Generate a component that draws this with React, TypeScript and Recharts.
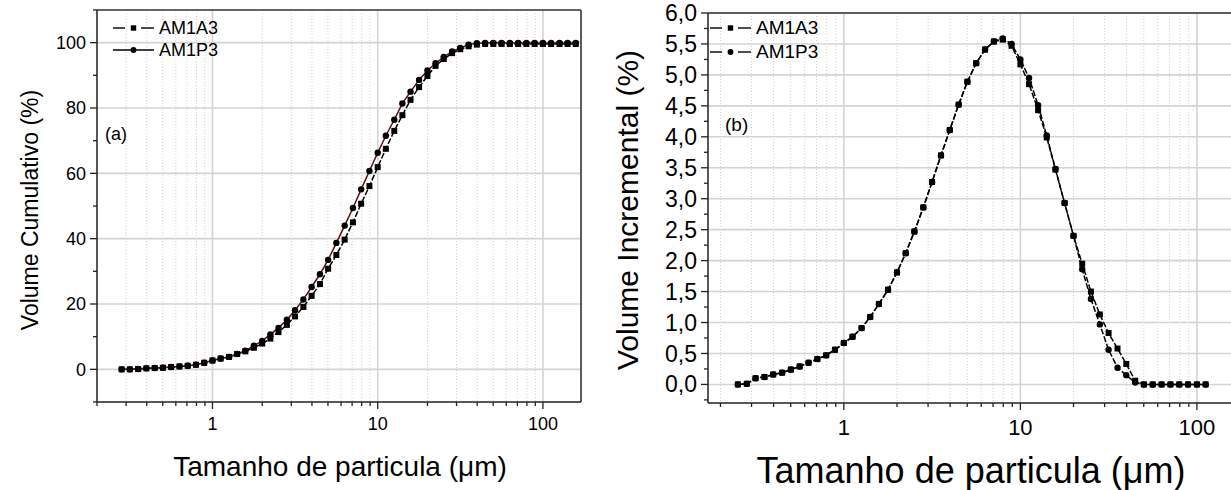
import React from 'react';
import { LineChart, Line, XAxis, YAxis, CartesianGrid, ReferenceLine, Legend } from 'recharts';

// ---------- data ----------
const leftSizes = [0.282, 0.316, 0.355, 0.398, 0.447, 0.501, 0.562, 0.631, 0.708, 0.794, 0.891, 1, 1.12, 1.26, 1.41, 1.58, 1.78, 2, 2.24, 2.51, 2.82, 3.16, 3.55, 3.98, 4.47, 5.01, 5.62, 6.31, 7.08, 7.94, 8.91, 10, 11.2, 12.6, 14.1, 15.8, 17.8, 20, 22.4, 25.1, 28.2, 31.6, 35.5, 39.8, 44.7, 50.1, 56.2, 63.1, 70.8, 79.4, 89.1, 100, 112, 126, 141, 158];
const leftA3 = [0.0, 0.0, 0.1, 0.3, 0.4, 0.5, 0.7, 0.9, 1.1, 1.4, 2.0, 2.7, 3.3, 3.8, 4.7, 5.5, 6.6, 7.9, 9.4, 11.4, 13.6, 16.2, 19.1, 22.5, 26.1, 30.8, 35.0, 39.7, 45.0, 50.7, 56.1, 61.9, 67.5, 73.0, 77.8, 82.5, 86.4, 89.8, 92.9, 95.0, 96.8, 98.0, 98.9, 99.4, 99.6, 99.6, 99.6, 99.6, 99.6, 99.6, 99.6, 99.6, 99.6, 99.6, 99.6, 99.6];
const leftP3 = [0.0, 0.0, 0.1, 0.3, 0.4, 0.5, 0.7, 0.9, 1.1, 1.4, 2.0, 2.7, 3.3, 3.8, 4.7, 5.7, 7.2, 8.7, 10.7, 12.7, 15.2, 18.1, 21.4, 25.2, 29.1, 33.5, 38.7, 44.0, 49.4, 55.1, 60.7, 66.3, 71.5, 76.4, 81.4, 85.0, 88.6, 91.5, 93.7, 95.6, 97.3, 98.4, 99.4, 99.8, 99.9, 99.9, 99.9, 99.9, 99.9, 99.9, 99.9, 99.9, 99.9, 99.9, 99.9, 99.9];

const rightSizes = [0.251, 0.282, 0.316, 0.355, 0.398, 0.447, 0.501, 0.562, 0.631, 0.708, 0.794, 0.891, 1, 1.12, 1.26, 1.41, 1.58, 1.78, 2, 2.24, 2.51, 2.82, 3.16, 3.55, 3.98, 4.47, 5.01, 5.62, 6.31, 7.08, 7.94, 8.91, 10, 11.2, 12.6, 14.1, 15.8, 17.8, 20, 22.4, 25.1, 28.2, 31.6, 35.5, 39.8, 44.7, 50.1, 56.2, 63.1, 70.8, 79.4, 89.1, 100, 112];
const rightA3 = [0.00, 0.01, 0.10, 0.12, 0.16, 0.19, 0.24, 0.29, 0.35, 0.41, 0.47, 0.56, 0.67, 0.77, 0.91, 1.09, 1.30, 1.53, 1.81, 2.12, 2.47, 2.86, 3.27, 3.70, 4.11, 4.52, 4.89, 5.19, 5.41, 5.54, 5.57, 5.47, 5.17, 4.85, 4.43, 3.99, 3.47, 2.93, 2.40, 1.95, 1.50, 1.13, 0.83, 0.58, 0.33, 0.06, 0, 0, 0, 0, 0, 0, 0, 0];
const rightP3 = [0.00, 0.01, 0.10, 0.12, 0.16, 0.19, 0.24, 0.29, 0.35, 0.41, 0.47, 0.56, 0.67, 0.77, 0.91, 1.09, 1.30, 1.53, 1.81, 2.12, 2.47, 2.86, 3.27, 3.70, 4.11, 4.52, 4.89, 5.19, 5.41, 5.54, 5.59, 5.50, 5.25, 4.95, 4.51, 4.02, 3.48, 2.93, 2.40, 1.86, 1.38, 0.97, 0.56, 0.27, 0.15, 0.03, 0, 0, 0, 0, 0, 0, 0, 0];

// ---------- ticks ----------
const xMajor = [1, 10, 100];
const xMinor = [0.2, 0.3, 0.4, 0.5, 0.6, 0.7, 0.8, 0.9, 2, 3, 4, 5, 6, 7, 8, 9, 20, 30, 40, 50, 60, 70, 80, 90];
const leftYMajor = [0, 20, 40, 60, 80, 100];
const leftYMinor = [-10, 10, 30, 50, 70, 90, 110];
const rightYMajor = [0, 0.5, 1, 1.5, 2, 2.5, 3, 3.5, 4, 4.5, 5, 5.5, 6];
const rightYMinor = [-0.25, 0.25, 0.75, 1.25, 1.75, 2.25, 2.75, 3.25, 3.75, 4.25, 4.75, 5.25, 5.75];

const seriesNames = ['AM1A3', 'AM1P3'];
const titleX = 'Tamanho de particula (\u03BCm)';
const leftTitleY = 'Volume Cumulativo (%)';
const rightTitleY = 'Volume Incremental (%)';

const leftData = leftSizes.map((s, i) => ({ size: s, a3: leftA3[i], p3: leftP3[i] }));
const rightData = rightSizes.map((s, i) => ({ size: s, a3: rightA3[i], p3: rightP3[i] }));

const FONT = '"Liberation Sans", Arial, sans-serif';
const AXIS = '#222';
const RED = '#5c1010';

const sortNum = (a: number[]) => [...a].sort((p, q) => p - q);

function makeXTick(fontSize: number, labelDy: number) {
  return (props: any) => {
    const { x, y, payload } = props;
    const major = xMajor.includes(payload.value);
    return (
      <g>
        <line x1={x} x2={x} y1={y} y2={y + (major ? 7 : 4)} stroke={AXIS} strokeWidth={1.3} />
        {major && (
          <text x={x} y={y + labelDy} textAnchor="middle" fontSize={fontSize} fontFamily={FONT} fill="#000">
            {String(payload.value)}
          </text>
        )}
      </g>
    );
  };
}

function makeYTick(majors: number[], fontSize: number, fmt: (v: number) => string) {
  return (props: any) => {
    const { x, y, payload } = props;
    const major = majors.includes(payload.value);
    const len = major ? 7 : 4;
    return (
      <g>
        <line x1={x - len} x2={x} y1={y} y2={y} stroke={AXIS} strokeWidth={1.3} />
        {major && (
          <text x={x - len - 4} y={y} dy="0.35em" textAnchor="end" fontSize={fontSize} fontFamily={FONT} fill="#000">
            {fmt(payload.value)}
          </text>
        )}
      </g>
    );
  };
}

const SquareDot = (props: any) => {
  const { cx, cy } = props;
  if (cx == null || cy == null) return <g />;
  return <rect x={cx - 3} y={cy - 3} width={6} height={6} fill="#000" />;
};
const CircleDot = (props: any) => {
  const { cx, cy } = props;
  if (cx == null || cy == null) return <g />;
  return <circle cx={cx} cy={cy} r={3.2} fill="#000" />;
};

function makeLegend(fontSize: number, dashed: boolean[], rowH: number) {
  return () => (
    <div style={{ fontFamily: FONT, fontSize, lineHeight: `${rowH}px`, color: '#000' }}>
      {seriesNames.map((n, i) => {
        const m = rowH / 2;
        return (
          <div key={n} style={{ display: 'flex', alignItems: 'center', height: rowH }}>
            <svg width={42} height={rowH} style={{ display: 'block' }}>
              {dashed[i] ? (
                <g stroke="#000" strokeWidth={1.4}>
                  <line x1={0} x2={12} y1={m} y2={m} />
                  <line x1={28} x2={41} y1={m} y2={m} />
                </g>
              ) : (
                <line x1={0} x2={41} y1={m} y2={m} stroke="#000" strokeWidth={1.4} />
              )}
              {i === 0 ? (
                <rect x={20.5 - 2.7} y={m - 2.7} width={5.4} height={5.4} fill="#000" />
              ) : (
                <circle cx={20.5} cy={m} r={2.9} fill="#000" />
              )}
            </svg>
            <span style={{ marginLeft: 4 }}>{n}</span>
          </div>
        );
      })}
    </div>
  );
}

const fmtInt = (v: number) => String(v);
const fmtComma = (v: number) => v.toFixed(1).replace('.', ',');

export default function App() {
  return (
    <div style={{ position: 'absolute', left: 0, top: 0, width: 1231, height: 490, overflow: 'hidden', background: '#fff', fontFamily: FONT }}>
      {/* ---------------- left chart ---------------- */}
      <div style={{ position: 'absolute', left: 0, top: 0 }}>
        <LineChart width={600} height={490} data={leftData} margin={{ top: 10, right: 19, left: 37, bottom: 48 }}>
          <CartesianGrid verticalValues={xMinor} horizontal={false} stroke="#cfcfcf" strokeDasharray="1 2" strokeWidth={1} />
          <CartesianGrid verticalValues={xMajor} horizontalValues={leftYMajor} stroke="#d4d4d4" strokeWidth={1.6} />
          <XAxis dataKey="size" type="number" scale="log" domain={[0.2, 170]} allowDataOverflow
            ticks={sortNum([...xMajor, ...xMinor])} interval={0} tickSize={0} tickMargin={0} tickLine={false}
            tick={makeXTick(18, 28)} height={40} axisLine={{ stroke: AXIS, strokeWidth: 1.5 }} />
          <YAxis type="number" domain={[-10, 110]} allowDataOverflow ticks={sortNum([...leftYMajor, ...leftYMinor])}
            interval={0} tickSize={0} tickMargin={0} tickLine={false} tick={makeYTick(leftYMajor, 18, fmtInt)}
            width={60} axisLine={{ stroke: AXIS, strokeWidth: 1.5 }} />
          <ReferenceLine y={110} stroke="#333" strokeWidth={1.6} ifOverflow="visible" />
          <ReferenceLine x={170} stroke="#333" strokeWidth={1.6} ifOverflow="visible" />
          <Line dataKey="a3" name="AM1A3" stroke="#000" strokeWidth={1.5} strokeDasharray="6 2" dot={SquareDot} isAnimationActive={false} />
          <Line dataKey="p3" name="AM1P3" stroke={RED} strokeWidth={1.5} dot={CircleDot} isAnimationActive={false} />
          <Legend layout="vertical" align="center" verticalAlign="middle"
            wrapperStyle={{ position: 'absolute', left: 113, top: 17, width: 150, height: 46, margin: 0 }}
            content={makeLegend(18, [true, false], 22)} />
        </LineChart>
        <div style={{ position: 'absolute', left: 105, top: 124, fontSize: 18, lineHeight: '20px' }}>(a)</div>
        <div style={{ position: 'absolute', left: 340, top: 467, transform: 'translate(-50%, -50%)', whiteSpace: 'nowrap', fontSize: 28 }}>{titleX}</div>
        <div style={{ position: 'absolute', left: 30, top: 210, transform: 'translate(-50%, -50%) rotate(-90deg)', whiteSpace: 'nowrap', fontSize: 23 }}>{leftTitleY}</div>
      </div>

      {/* ---------------- right chart ---------------- */}
      <div style={{ position: 'absolute', left: 600, top: 0 }}>
        <LineChart width={631} height={490} data={rightData} margin={{ top: 13, right: 0, left: 38, bottom: 47 }}>
          <CartesianGrid verticalValues={xMinor} horizontal={false} stroke="#cfcfcf" strokeDasharray="1 2" strokeWidth={1} />
          <CartesianGrid verticalValues={xMajor} horizontalValues={rightYMajor} stroke="#d4d4d4" strokeWidth={1.6} />
          <XAxis dataKey="size" type="number" scale="log" domain={[0.17, 156]} allowDataOverflow
            ticks={sortNum([...xMajor, ...xMinor])} interval={0} tickSize={0} tickMargin={0} tickLine={false}
            tick={makeXTick(22, 32)} height={40} axisLine={{ stroke: AXIS, strokeWidth: 1.5 }} />
          <YAxis type="number" domain={[-0.3, 6]} allowDataOverflow ticks={sortNum([...rightYMajor, ...rightYMinor])}
            interval={0} tickSize={0} tickMargin={0} tickLine={false} tick={makeYTick(rightYMajor, 23, fmtComma)}
            width={70} axisLine={{ stroke: AXIS, strokeWidth: 1.5 }} />
          <ReferenceLine y={6} stroke="#333" strokeWidth={1.6} ifOverflow="visible" />
          <Line dataKey="a3" name="AM1A3" stroke="#000" strokeWidth={1.5} strokeDasharray="6 2" dot={SquareDot} isAnimationActive={false} />
          <Line dataKey="p3" name="AM1P3" stroke="#000" strokeWidth={1.5} strokeDasharray="6 2" dot={CircleDot} isAnimationActive={false} />
          <Legend layout="vertical" align="center" verticalAlign="middle"
            wrapperStyle={{ position: 'absolute', left: 110, top: 16, width: 150, height: 48, margin: 0 }}
            content={makeLegend(19, [true, true], 24)} />
        </LineChart>
        <div style={{ position: 'absolute', left: 125, top: 115, fontSize: 19, lineHeight: '20px' }}>(b)</div>
        <div style={{ position: 'absolute', left: 371, top: 471, transform: 'translate(-50%, -50%)', whiteSpace: 'nowrap', fontSize: 36 }}>{titleX}</div>
        <div style={{ position: 'absolute', left: 28, top: 210, transform: 'translate(-50%, -50%) rotate(-90deg)', whiteSpace: 'nowrap', fontSize: 30 }}>{rightTitleY}</div>
      </div>
    </div>
  );
}
